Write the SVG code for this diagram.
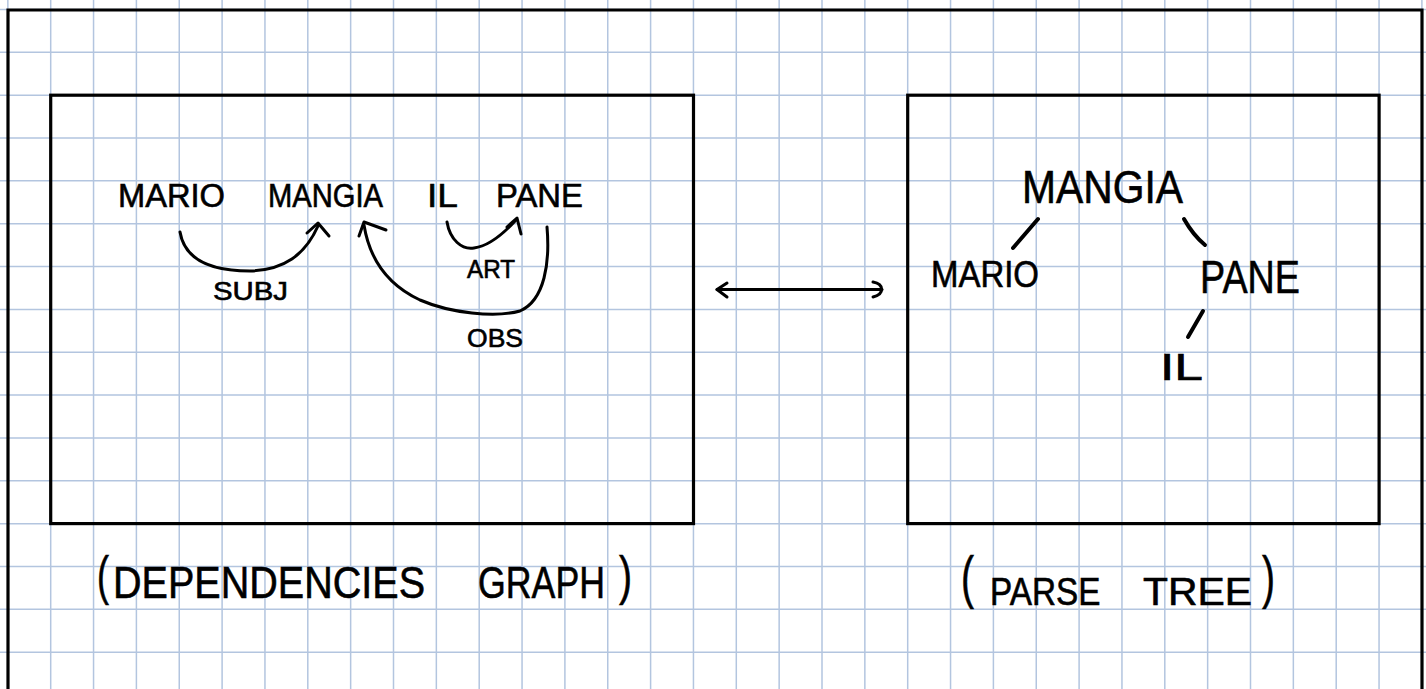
<svg xmlns="http://www.w3.org/2000/svg" width="1426" height="689" viewBox="0 0 1426 689">
<style>
.grid{stroke:#b3c5df;stroke-width:1.5;fill:none}
.box{fill:none;stroke:#000;stroke-width:3.2}
.ink{fill:none;stroke:#000;stroke-width:3;stroke-linecap:round;stroke-linejoin:round}
.thick{stroke-width:4}
text{font-family:"Liberation Sans","DejaVu Sans",sans-serif;fill:#000;stroke:#000;stroke-width:0.6}
</style>
<rect width="1426" height="689" fill="#fff"/>
<g id="grid">
<path class="grid" d="M7.85,0V689M50.7,0V689M93.55,0V689M136.4,0V689M179.25,0V689M222.1,0V689M264.95,0V689M307.8,0V689M350.65,0V689M393.5,0V689M436.35,0V689M479.2,0V689M522.05,0V689M564.9,0V689M607.75,0V689M650.6,0V689M693.45,0V689M736.3,0V689M779.15,0V689M822,0V689M864.85,0V689M907.7,0V689M950.55,0V689M993.4,0V689M1036.25,0V689M1079.1,0V689M1121.95,0V689M1164.8,0V689M1207.65,0V689M1250.5,0V689M1293.35,0V689M1336.2,0V689M1379.05,0V689M1421.9,0V689"/>
<path class="grid" d="M0,9.45H1426M0,52.3H1426M0,95.15H1426M0,138H1426M0,180.85H1426M0,223.7H1426M0,266.55H1426M0,309.4H1426M0,352.25H1426M0,395.1H1426M0,437.95H1426M0,480.8H1426M0,523.65H1426M0,566.5H1426M0,609.35H1426M0,652.2H1426"/>
</g>
<g id="page-frame">
<path class="box" d="M8,700V10H1422V700"/>
</g>
<g id="dependencies-graph">
<rect class="box" x="50.7" y="95.2" width="642.8" height="428.4"/>
<g id="dep-mario"><text x="118" y="207" font-size="33" textLength="107" lengthAdjust="spacingAndGlyphs">MARIO</text></g>
<g id="dep-mangia"><text x="268" y="207" font-size="33" textLength="115" lengthAdjust="spacingAndGlyphs">MANGIA</text></g>
<g id="dep-il"><text x="427" y="207" font-size="33" textLength="31" lengthAdjust="spacingAndGlyphs">IL</text></g>
<g id="dep-pane"><text x="496" y="207" font-size="33" textLength="87" lengthAdjust="spacingAndGlyphs">PANE</text></g>
<g id="dep-caption">
<text transform="translate(97,594) scale(0.68,1)" font-size="53">(</text>
<text transform="translate(113,598) scale(0.879,1)" font-size="45">DEPENDENCIES</text>
<text transform="translate(478,598) scale(0.794,1)" font-size="45">GRAPH</text>
<text transform="translate(619,594) scale(0.74,1)" font-size="53">)</text>
</g>
</g>
<g id="parse-tree">
<rect class="box" x="907.7" y="95.2" width="471.4" height="428.4"/>
<g id="tree-mangia"><text x="1022" y="203" font-size="46" textLength="161" lengthAdjust="spacingAndGlyphs">MANGIA</text></g>
<g id="tree-mario"><text x="931" y="287" font-size="36" textLength="108" lengthAdjust="spacingAndGlyphs">MARIO</text></g>
<g id="tree-pane"><text x="1200" y="293" font-size="47" textLength="100" lengthAdjust="spacingAndGlyphs">PANE</text></g>
<g id="tree-il"><text x="1160" y="380" font-size="37" textLength="43" lengthAdjust="spacingAndGlyphs">IL</text></g>
<g id="tree-caption">
<text transform="translate(961,597) scale(0.673,1)" font-size="58">(</text>
<text transform="translate(990,605) scale(0.877,1)" font-size="38">PARSE</text>
<text transform="translate(1143,605) scale(1.076,1)" font-size="38">TREE</text>
<text transform="translate(1262,597) scale(0.673,1)" font-size="58">)</text>
</g>
</g>
<g id="connectors">
<g id="edge-subj">
<path class="ink" d="M180,232C185,262 215,271 250,271C284,270 305,255 318,226"/>
<path class="ink" d="M307,233L318,223L329,236"/>
<text x="213" y="300" font-size="25" textLength="75" lengthAdjust="spacingAndGlyphs">SUBJ</text>
</g>
<g id="edge-art">
<path class="ink" d="M447,222C450,240 462,250 474,248C490,246 505,232 516,220"/>
<path class="ink" d="M507,227L517,218L521,234"/>
<text x="467" y="278" font-size="25" textLength="48" lengthAdjust="spacingAndGlyphs">ART</text>
</g>
<g id="edge-obs">
<path class="ink" d="M547,227C550,262 545,300 520,311C495,318 450,313 420,300C390,286 370,262 364,225"/>
<path class="ink" d="M359,236L364,222L386,230"/>
<text x="467" y="347" font-size="25" textLength="56" lengthAdjust="spacingAndGlyphs">OBS</text>
</g>
<g id="edge-equivalence">
<path class="ink" d="M717,289.5H882"/>
<path class="ink" d="M727,283L717,289.5L727,297"/>
<path class="ink" d="M873,282C884,284 885,294 873,297"/>
</g>
<g id="tree-edges">
<path class="ink thick" d="M1038,219L1013,248"/>
<path class="ink thick" d="M1184,219Q1193,235 1205,245"/>
<path class="ink thick" d="M1203,311L1188,337"/>
</g>
</g>
</svg>
